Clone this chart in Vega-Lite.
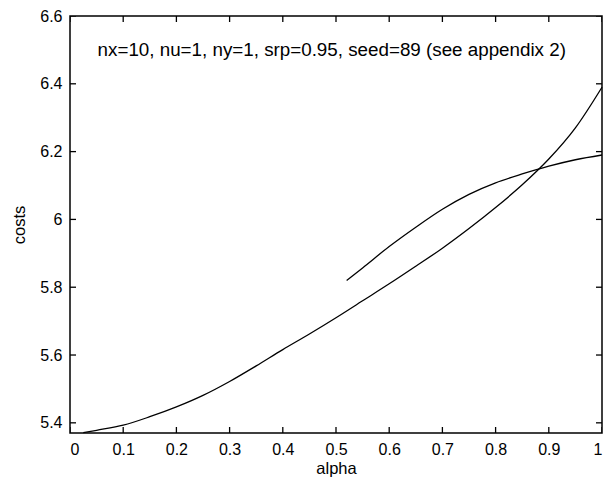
{
  "$schema": "https://vega.github.io/schema/vega-lite/v6.json",
  "width": 532,
  "height": 417,
  "autosize": {"type": "none"},
  "padding": {"left": 70, "top": 16, "right": 3, "bottom": 51},
  "background": "white",
  "config": {
    "view": {"stroke": "black", "strokeWidth": 1.5},
    "font": "Liberation Sans"
  },
  "datasets": {
    "curves": [
      {"alpha": 0.025, "costs": 5.371, "series": "lower"},
      {"alpha": 0.05, "costs": 5.378, "series": "lower"},
      {"alpha": 0.1, "costs": 5.393, "series": "lower"},
      {"alpha": 0.15, "costs": 5.418, "series": "lower"},
      {"alpha": 0.2, "costs": 5.447, "series": "lower"},
      {"alpha": 0.25, "costs": 5.481, "series": "lower"},
      {"alpha": 0.3, "costs": 5.522, "series": "lower"},
      {"alpha": 0.35, "costs": 5.568, "series": "lower"},
      {"alpha": 0.4, "costs": 5.616, "series": "lower"},
      {"alpha": 0.45, "costs": 5.662, "series": "lower"},
      {"alpha": 0.5, "costs": 5.71, "series": "lower"},
      {"alpha": 0.55, "costs": 5.76, "series": "lower"},
      {"alpha": 0.6, "costs": 5.81, "series": "lower"},
      {"alpha": 0.65, "costs": 5.862, "series": "lower"},
      {"alpha": 0.7, "costs": 5.915, "series": "lower"},
      {"alpha": 0.75, "costs": 5.973, "series": "lower"},
      {"alpha": 0.8, "costs": 6.035, "series": "lower"},
      {"alpha": 0.85, "costs": 6.102, "series": "lower"},
      {"alpha": 0.9, "costs": 6.178, "series": "lower"},
      {"alpha": 0.95, "costs": 6.27, "series": "lower"},
      {"alpha": 1.0, "costs": 6.39, "series": "lower"},
      {"alpha": 0.52, "costs": 5.82, "series": "upper"},
      {"alpha": 0.55, "costs": 5.857, "series": "upper"},
      {"alpha": 0.6, "costs": 5.92, "series": "upper"},
      {"alpha": 0.65, "costs": 5.977, "series": "upper"},
      {"alpha": 0.7, "costs": 6.03, "series": "upper"},
      {"alpha": 0.75, "costs": 6.074, "series": "upper"},
      {"alpha": 0.8, "costs": 6.108, "series": "upper"},
      {"alpha": 0.85, "costs": 6.134, "series": "upper"},
      {"alpha": 0.9, "costs": 6.157, "series": "upper"},
      {"alpha": 0.95, "costs": 6.176, "series": "upper"},
      {"alpha": 1.0, "costs": 6.19, "series": "upper"}
    ],
    "note": [
      {"alpha": 0.492, "costs": 6.5, "label": "nx=10, nu=1, ny=1, srp=0.95, seed=89 (see appendix 2)"}
    ],
    "xticks": [
      {"alpha": 0}, {"alpha": 0.1}, {"alpha": 0.2}, {"alpha": 0.3}, {"alpha": 0.4}, {"alpha": 0.5},
      {"alpha": 0.6}, {"alpha": 0.7}, {"alpha": 0.8}, {"alpha": 0.9}, {"alpha": 1}
    ],
    "yticks": [
      {"costs": 5.4}, {"costs": 5.6}, {"costs": 5.8}, {"costs": 6}, {"costs": 6.2}, {"costs": 6.4}, {"costs": 6.6}
    ]
  },
  "layer": [
    {
      "data": {"name": "curves"},
      "mark": {"type": "line", "color": "black", "strokeWidth": 1.3, "interpolate": "monotone"},
      "encoding": {
        "x": {
          "field": "alpha", "type": "quantitative", "title": "alpha",
          "scale": {"domain": [0, 1], "nice": false, "zero": false},
          "axis": {"title": "alpha", "values": [0, 0.1, 0.2, 0.3, 0.4, 0.5, 0.6, 0.7, 0.8, 0.9, 1], "format": "~g",
            "domain": false, "grid": false, "ticks": false,
            "labelColor": "black", "labelFontSize": 16, "labelFont": "Liberation Sans", "labelPadding": 8,
            "titleFont": "Liberation Sans", "titleFontSize": 16.5, "titleFontWeight": "normal", "titleColor": "black", "titlePadding": 3}
        },
        "y": {
          "field": "costs", "type": "quantitative", "title": "costs",
          "scale": {"domain": [5.37, 6.6], "nice": false, "zero": false},
          "axis": {"title": "costs", "values": [5.4, 5.6, 5.8, 6, 6.2, 6.4, 6.6], "format": "~g",
            "domain": false, "grid": false, "ticks": false,
            "labelColor": "black", "labelFontSize": 16, "labelFont": "Liberation Sans", "labelPadding": 8,
            "titleFont": "Liberation Sans", "titleFontSize": 16.5, "titleFontWeight": "normal", "titleColor": "black", "titlePadding": 12}
        },
        "detail": {"field": "series"}
      }
    },
    {
      "data": {"name": "xticks"},
      "mark": {"type": "tick", "orient": "vertical", "color": "black", "size": 12, "thickness": 1.3, "opacity": 1, "clip": true},
      "encoding": {
        "x": {"field": "alpha", "type": "quantitative", "title": "alpha"},
        "y": {"datum": 5.37, "type": "quantitative", "title": "costs"}
      }
    },
    {
      "data": {"name": "xticks"},
      "mark": {"type": "tick", "orient": "vertical", "color": "black", "size": 12, "thickness": 1.3, "opacity": 1, "clip": true},
      "encoding": {
        "x": {"field": "alpha", "type": "quantitative", "title": "alpha"},
        "y": {"datum": 6.6, "type": "quantitative", "title": "costs"}
      }
    },
    {
      "data": {"name": "yticks"},
      "mark": {"type": "tick", "orient": "horizontal", "color": "black", "size": 12, "thickness": 1.3, "opacity": 1, "clip": true},
      "encoding": {
        "y": {"field": "costs", "type": "quantitative", "title": "costs"},
        "x": {"datum": 0, "type": "quantitative", "title": "alpha"}
      }
    },
    {
      "data": {"name": "yticks"},
      "mark": {"type": "tick", "orient": "horizontal", "color": "black", "size": 12, "thickness": 1.3, "opacity": 1, "clip": true},
      "encoding": {
        "y": {"field": "costs", "type": "quantitative", "title": "costs"},
        "x": {"datum": 1, "type": "quantitative", "title": "alpha"}
      }
    },
    {
      "data": {"name": "note"},
      "mark": {"type": "text", "fontSize": 18.8, "color": "black", "font": "Liberation Sans"},
      "encoding": {
        "x": {"field": "alpha", "type": "quantitative", "title": "alpha"},
        "y": {"field": "costs", "type": "quantitative", "title": "costs"},
        "text": {"field": "label"}
      }
    }
  ]
}
